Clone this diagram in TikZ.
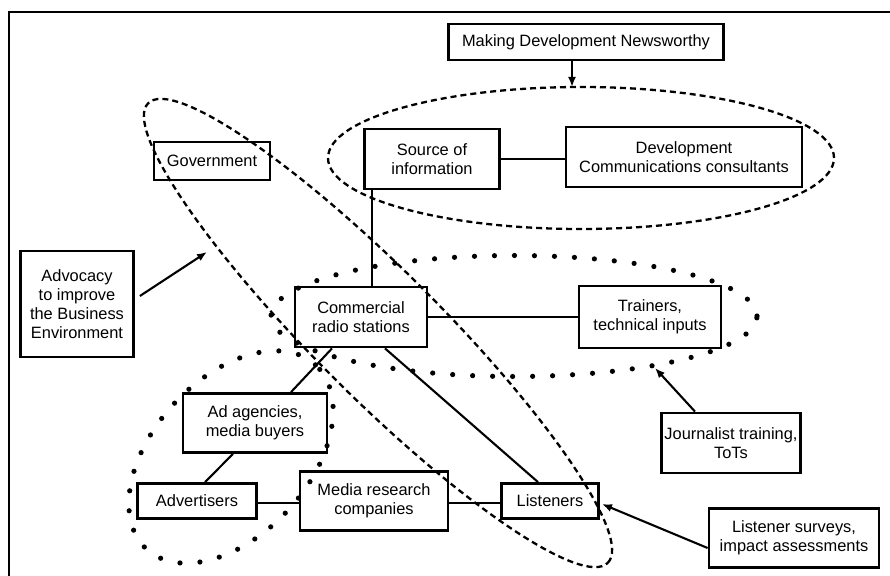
\documentclass[tikz,border=0pt]{standalone}
\usepackage{fontspec}
\setmainfont{Liberation Sans}
\usetikzlibrary{shapes.geometric, arrows.meta, positioning, calc}
\tikzset{
    % Base Box Style
    actor/.style={
        rectangle,
        draw=black,
        line width=2.8pt,
        align=center,
        inner sep=0pt,
        font=\fontsize{16.4}{19}\selectfont
    },
    % Connector & Arrow Styles
    link/.style={line width=2.1pt},
    arrow/.style={-{Latex[length=10pt,width=8pt]}, line width=2.1pt},
    % Grouping Ellipses
    cluster/.style={ellipse, inner sep=0pt},
    dashGroup/.style={cluster, draw, line width=2.3pt, dash pattern=on 6pt off 4pt},
    dotGroup/.style={cluster, draw, line width=5.2pt, line cap=round, dash pattern=on 0pt off 20pt}
}
\begin{document}
\begin{tikzpicture}[x=1pt, y=-1pt]
    \useasboundingbox (0,0) rectangle (890,575);

    % --- Frame ---
    \draw [line width=2pt] (8.5,600) |- (900,11.7);

    % --- Top Row ---
    \node (news) [actor, minimum width=275pt, minimum height=36pt] at (586,42) {Making Development Newsworthy};
    \node (govt) [actor, minimum width=116pt, minimum height=38pt] at (212,161) {Government};
    \node (source) [actor, minimum width=135pt, minimum height=60pt] at (432,159) {Source of\\information};
    \node (devcomm) [actor, minimum width=236pt, minimum height=60pt] at (684,157) {Development\\Communications consultants};

    % --- Middle Row ---
    \node (advocacy) [actor, minimum width=113pt, minimum height=106pt] at (77,304) {Advocacy\\to improve\\the Business\\Environment};
    \node (radio) [actor, minimum width=132pt, minimum height=60pt] at (361,317) {Commercial\\radio stations};
    \node (trainers) [actor, minimum width=142pt, minimum height=62pt] at (650,317) {Trainers,\\technical inputs};

    % --- Bottom Rows ---
    \node (adagency) [actor, minimum width=144pt, minimum height=59pt] at (255,423) {Ad agencies,\\media buyers};
    \node (journalist) [actor, minimum width=139pt, minimum height=60pt] at (731,443) {Journalist training,\\ToTs};
    \node (advertisers) [actor, minimum width=119pt, minimum height=35pt] at (197,501) {Advertisers};
    \node (research) [actor, minimum width=148pt, minimum height=59pt] at (374,501) {Media research\\companies};
    \node (listeners) [actor, minimum width=97pt, minimum height=35pt] at (550,501) {Listeners};
    \node (surveys) [actor, minimum width=170pt, minimum height=59pt] at (794,538) {Listener surveys,\\impact assessments};

    % --- Groups ---
    \node (topGroup) [dashGroup, minimum width=506pt, minimum height=142pt] at (581,158) {};
    \node (govGroup) [dashGroup, minimum width=650pt, minimum height=126pt, rotate=-45] at (378,333) {};
    \node (radioGroup) [dotGroup, minimum width=486pt, minimum height=121pt] at (514,316) {};
    \node (adGroup) [dotGroup, minimum width=250pt, minimum height=156pt, rotate=47.5] at (231,457) {};

    % --- Links ---
    \draw [link] (source.east) -- (source.east -| devcomm.west);
    \draw [link] ([xshift=9pt]source.south west) -- ([xshift=9pt]source.south west |- radio.north);
    \draw [link] (radio.east) -- (radio.east -| trainers.west);
    \draw [link] ([xshift=-29pt]radio.south) -- ([xshift=36pt]adagency.north);
    \draw [link] ([xshift=-22pt]adagency.south) -- ([xshift=8pt]advertisers.north);
    \draw [link] ([xshift=24pt]radio.south) -- ([xshift=-12pt]listeners.north);
    \draw [link] ([yshift=-2pt]advertisers.east) -- ([yshift=-2pt]advertisers.east -| research.west);
    \draw [link] ([yshift=-2pt]research.east) -- ([yshift=-2pt]research.east -| listeners.west);

    % --- Arrows ---
    \coordinate (newsTip) at (572,87);
    \coordinate (govTip) at (207,252);
    \coordinate (radioTip) at (655,368);
    \coordinate (listenTip) at (602,504);
    \draw [arrow] (news.south -| newsTip) -- (newsTip);
    \draw [arrow] ([xshift=5pt,yshift=8pt]advocacy.east) -- (govTip);
    \draw [arrow] ([xshift=-36pt]journalist.north) -- (radioTip);
    \draw [arrow] ([yshift=-10pt]surveys.west) -- (listenTip);

\end{tikzpicture}
\end{document}
